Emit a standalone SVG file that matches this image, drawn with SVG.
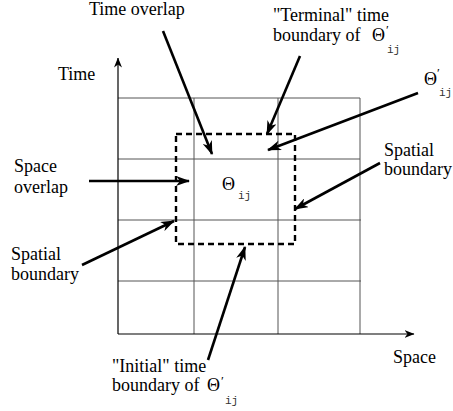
<svg xmlns="http://www.w3.org/2000/svg" width="453" height="411" viewBox="0 0 453 411">
<defs>
<style>
.t{font-family:'Liberation Serif','Times New Roman',serif;font-size:18px;fill:#000}
.th{font-family:'Liberation Serif','Times New Roman',serif;font-size:18px;fill:#000}
.pr{font-family:'Liberation Serif','Times New Roman',serif;font-size:13px;fill:#000}
.sub{font-family:'Liberation Mono','Courier New',monospace;font-size:11px;fill:#333}
.grid{stroke:#555;stroke-width:1;fill:none}
.axis{stroke:#000;stroke-width:1.2;fill:none}
.conn{stroke:#000;stroke-width:2.6;fill:none}
.dash{stroke:#000;stroke-width:2.4;fill:none;stroke-dasharray:6 4}
</style>
<marker id="ah" viewBox="0 0 14 10" refX="13" refY="5" markerWidth="14" markerHeight="10" markerUnits="userSpaceOnUse" orient="auto">
<path d="M0,0 L14,5 L0,10 L4,5 Z" fill="#000"/>
</marker>
<marker id="ax" viewBox="0 0 10 8" refX="9.5" refY="4" markerWidth="10" markerHeight="8" markerUnits="userSpaceOnUse" orient="auto">
<path d="M0,0 L10,4 L0,8 L3,4 Z" fill="#000"/>
</marker>
</defs>
<g id="grid">
<line class="grid" x1="118" y1="98" x2="360" y2="98"/>
<line class="grid" x1="118" y1="159" x2="360" y2="159"/>
<line class="grid" x1="118" y1="220" x2="361" y2="220"/>
<line class="grid" x1="118" y1="281" x2="361" y2="281"/>
<line class="grid" x1="194" y1="98" x2="194" y2="334"/>
<line class="grid" x1="278" y1="98" x2="278" y2="334"/>
<line class="grid" x1="360" y1="98" x2="360" y2="334"/>
</g>
<g id="axes">
<line class="axis" x1="118" y1="334" x2="118" y2="58" marker-end="url(#ax)"/>
<line class="axis" x1="118" y1="334" x2="414" y2="334" marker-end="url(#ax)"/>
</g>
<g id="region">
<rect class="dash" x="176" y="134" width="119" height="110"/>
</g>
<g id="time-overlap"><text class="t" x="89" y="15">Time overlap</text></g>
<g id="terminal">
<text class="t" x="273" y="21">"Terminal" time</text>
<text class="t" x="273" y="41">boundary of <tspan class="th" x="372">Θ</tspan><tspan class="pr" x="386" y="34">′</tspan><tspan class="sub" x="387" y="53">ij</tspan></text>
</g>
<g id="time-label"><text class="t" x="58" y="80">Time</text></g>
<g id="theta-prime"><text class="th" x="424" y="85">Θ<tspan class="pr" x="437" y="77">′</tspan><tspan class="sub" x="439" y="96">ij</tspan></text></g>
<g id="space-overlap">
<text class="t" x="14" y="172">Space</text>
<text class="t" x="14" y="193">overlap</text>
</g>
<g id="theta"><text class="th" x="222" y="190">Θ<tspan class="sub" x="238" y="199">ij</tspan></text></g>
<g id="spatial-right">
<text class="t" x="384" y="156">Spatial</text>
<text class="t" x="384" y="175">boundary</text>
</g>
<g id="spatial-left">
<text class="t" x="11" y="260">Spatial</text>
<text class="t" x="11" y="280">boundary</text>
</g>
<g id="space-label"><text class="t" x="393" y="363">Space</text></g>
<g id="initial">
<text class="t" x="112" y="372">"Initial" time</text>
<text class="t" x="112" y="391">boundary of <tspan class="th" x="207">Θ</tspan><tspan class="pr" x="221" y="385">′</tspan><tspan class="sub" x="225" y="404">ij</tspan></text>
</g>
<g id="connectors">
<line class="conn" x1="163" y1="31" x2="212" y2="154" marker-end="url(#ah)"/>
<line class="conn" x1="300" y1="56" x2="267" y2="134" marker-end="url(#ah)"/>
<line class="conn" x1="418" y1="93" x2="268" y2="150" marker-end="url(#ah)"/>
<line class="conn" x1="89" y1="181" x2="189" y2="181" marker-end="url(#ah)"/>
<line class="conn" x1="380" y1="163" x2="295" y2="209" marker-end="url(#ah)"/>
<line class="conn" x1="82" y1="265" x2="174" y2="221" marker-end="url(#ah)"/>
<line class="conn" x1="208" y1="360" x2="245" y2="247" marker-end="url(#ah)"/>
</g>
</svg>
